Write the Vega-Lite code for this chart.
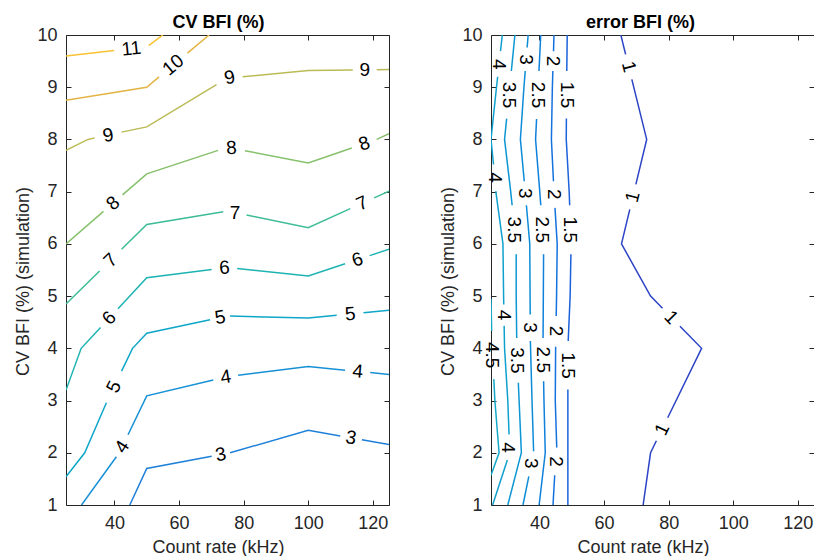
{
  "$schema": "https://vega.github.io/schema/vega-lite/v6.json",
  "autosize": {"type": "pad"},
  "padding": {"left": 14, "top": 14, "right": 0, "bottom": 0},
  "background": "white",
  "config": {
    "view": {"stroke": null},
    "font": "Liberation Sans",
    "axis": {
      "grid": false, "domainColor": "#262626", "tickColor": "#262626", "labelColor": "#262626",
      "titleColor": "#262626", "labelFont": "Liberation Sans", "titleFont": "Liberation Sans",
      "labelFontSize": 18, "titleFontSize": 18, "titleFontWeight": "normal",
      "tickSize": -5, "labelPadding": 14, "domainWidth": 1, "tickWidth": 1
    }
  },
  "resolve": {"scale": {"color": "independent"}},
  "datasets": {
    "L": [
      {"lv":"3","s":"3a","x":44.75,"y":1.0},{"lv":"3","s":"3a","x":50,"y":1.70},{"lv":"3","s":"3a","x":70.1,"y":1.934},
      {"lv":"3","s":"3b","x":75.8,"y":2.0},{"lv":"3","s":"3b","x":100,"y":2.43},{"lv":"3","s":"3b","x":109.9,"y":2.323},
      {"lv":"3","s":"3c","x":116.6,"y":2.251},{"lv":"3","s":"3c","x":125,"y":2.16},
      {"lv":"4","s":"4a","x":29.8,"y":1.0},{"lv":"4","s":"4a","x":40.6,"y":1.923},
      {"lv":"4","s":"4b","x":44.2,"y":2.346},{"lv":"4","s":"4b","x":50,"y":3.09},{"lv":"4","s":"4b","x":70.6,"y":3.395},
      {"lv":"4","s":"4c","x":78.3,"y":3.485},{"lv":"4","s":"4c","x":100,"y":3.65},{"lv":"4","s":"4c","x":111.4,"y":3.582},
      {"lv":"4","s":"4d","x":119.2,"y":3.535},{"lv":"4","s":"4d","x":125,"y":3.50},
      {"lv":"5","s":"5a","x":25,"y":1.54},{"lv":"5","s":"5a","x":30.8,"y":2.0},{"lv":"5","s":"5a","x":37.5,"y":2.957},
      {"lv":"5","s":"5b","x":42.2,"y":3.564},{"lv":"5","s":"5b","x":45.6,"y":4.0},{"lv":"5","s":"5b","x":50,"y":4.29},{"lv":"5","s":"5b","x":69.6,"y":4.549},
      {"lv":"5","s":"5c","x":75.8,"y":4.619},{"lv":"5","s":"5c","x":100,"y":4.58},{"lv":"5","s":"5c","x":108.8,"y":4.633},
      {"lv":"5","s":"5d","x":117.1,"y":4.683},{"lv":"5","s":"5d","x":125,"y":4.73},
      {"lv":"6","s":"6a","x":25,"y":3.2},{"lv":"6","s":"6a","x":29.7,"y":4.0},{"lv":"6","s":"6a","x":35.7,"y":4.40},
      {"lv":"6","s":"6b","x":41.1,"y":4.76},{"lv":"6","s":"6b","x":50,"y":5.35},{"lv":"6","s":"6b","x":70.1,"y":5.51},
      {"lv":"6","s":"6c","x":78.0,"y":5.53},{"lv":"6","s":"6c","x":100,"y":5.385},{"lv":"6","s":"6c","x":111.4,"y":5.62},
      {"lv":"6","s":"6d","x":119,"y":5.776},{"lv":"6","s":"6d","x":125,"y":5.9},
      {"lv":"7","s":"7a","x":25,"y":4.85},{"lv":"7","s":"7a","x":35.4,"y":5.48},
      {"lv":"7","s":"7b","x":42.2,"y":5.896},{"lv":"7","s":"7b","x":50,"y":6.37},{"lv":"7","s":"7b","x":73.7,"y":6.616},
      {"lv":"7","s":"7c","x":80.9,"y":6.554},{"lv":"7","s":"7c","x":100,"y":6.31},{"lv":"7","s":"7c","x":113,"y":6.674},
      {"lv":"7","s":"7d","x":120.4,"y":6.881},{"lv":"7","s":"7d","x":125,"y":7.01},
      {"lv":"8","s":"8a","x":25,"y":6.0},{"lv":"8","s":"8a","x":36.6,"y":6.622},
      {"lv":"8","s":"8b","x":42.5,"y":6.938},{"lv":"8","s":"8b","x":50,"y":7.34},{"lv":"8","s":"8b","x":72.1,"y":7.79},
      {"lv":"8","s":"8c","x":80.4,"y":7.785},{"lv":"8","s":"8c","x":100,"y":7.55},{"lv":"8","s":"8c","x":113.5,"y":7.837},
      {"lv":"8","s":"8d","x":121.2,"y":8.0},{"lv":"8","s":"8d","x":125,"y":8.11},
      {"lv":"9","s":"9a","x":25,"y":7.79},{"lv":"9","s":"9a","x":31.8,"y":8.0},{"lv":"9","s":"9a","x":33.9,"y":8.03},
      {"lv":"9","s":"9b","x":42.2,"y":8.14},{"lv":"9","s":"9b","x":50,"y":8.24},{"lv":"9","s":"9b","x":71.6,"y":9.05},
      {"lv":"9","s":"9c","x":79.7,"y":9.20},{"lv":"9","s":"9c","x":100,"y":9.32},{"lv":"9","s":"9c","x":113.8,"y":9.33},
      {"lv":"9","s":"9d","x":121.2,"y":9.335},{"lv":"9","s":"9d","x":125,"y":9.34},
      {"lv":"10","s":"10a","x":25,"y":8.75},{"lv":"10","s":"10a","x":50,"y":9.0},{"lv":"10","s":"10a","x":53.8,"y":9.197},
      {"lv":"10","s":"10b","x":62.6,"y":9.653},{"lv":"10","s":"10b","x":69.3,"y":10},
      {"lv":"11","s":"11a","x":25,"y":9.6},{"lv":"11","s":"11a","x":39.9,"y":9.701},
      {"lv":"11","s":"11b","x":50.6,"y":9.798},{"lv":"11","s":"11b","x":55,"y":10}
    ],
    "Llab": [
      {"t":"3","x":72.9,"y":1.967,"a":-11},{"t":"3","x":113.25,"y":2.287,"a":10},
      {"t":"4","x":42.4,"y":2.115,"a":-57},{"t":"4","x":74.45,"y":3.452,"a":-9},{"t":"4","x":115.3,"y":3.558,"a":5},
      {"t":"5","x":39.85,"y":3.263,"a":-64},{"t":"5","x":72.7,"y":4.59,"a":-10},{"t":"5","x":113,"y":4.658,"a":-5},
      {"t":"6","x":38.4,"y":4.579,"a":-47},{"t":"6","x":74.05,"y":5.542,"a":-3},{"t":"6","x":115.2,"y":5.698,"a":-18},
      {"t":"7","x":38.8,"y":5.688,"a":-44},{"t":"7","x":77.3,"y":6.6,"a":0},{"t":"7","x":116.7,"y":6.778,"a":-24},
      {"t":"8","x":39.55,"y":6.78,"a":-41},{"t":"8","x":76.25,"y":7.835,"a":-3},{"t":"8","x":117.35,"y":7.918,"a":-19},
      {"t":"9","x":38.05,"y":8.08,"a":-12},{"t":"9","x":75.65,"y":9.186,"a":-12},{"t":"9","x":117.5,"y":9.335,"a":0},
      {"t":"10","x":58.2,"y":9.425,"a":-40},{"t":"11","x":45.25,"y":9.738,"a":-6}
    ],
    "R": [
      {"lv":"1","s":"1a","x":65.2,"y":10},{"lv":"1","s":"1a","x":66.68,"y":9.63},
      {"lv":"1","s":"1b","x":68.6,"y":9.15},{"lv":"1","s":"1b","x":73.2,"y":8},{"lv":"1","s":"1b","x":69.85,"y":7.14},
      {"lv":"1","s":"1c","x":67.97,"y":6.66},{"lv":"1","s":"1c","x":65.4,"y":6},{"lv":"1","s":"1c","x":74.4,"y":5},{"lv":"1","s":"1c","x":78.1,"y":4.766},
      {"lv":"1","s":"1d","x":83.5,"y":4.424},{"lv":"1","s":"1d","x":90.2,"y":4},{"lv":"1","s":"1d","x":79.7,"y":2.67},
      {"lv":"1","s":"1e","x":76.2,"y":2.23},{"lv":"1","s":"1e","x":74.4,"y":2},{"lv":"1","s":"1e","x":72.1,"y":1},
      {"lv":"1.5","s":"15a","x":48.6,"y":10},{"lv":"1.5","s":"15a","x":48.46,"y":9.31},
      {"lv":"1.5","s":"15b","x":48.34,"y":8.4},{"lv":"1.5","s":"15b","x":48.3,"y":8},{"lv":"1.5","s":"15b","x":49.2,"y":7},{"lv":"1.5","s":"15b","x":49.36,"y":6.74},
      {"lv":"1.5","s":"15c","x":49.74,"y":5.8},{"lv":"1.5","s":"15c","x":49.5,"y":5},{"lv":"1.5","s":"15c","x":48.9,"y":4.14},
      {"lv":"1.5","s":"15d","x":48.8,"y":3.21},{"lv":"1.5","s":"15d","x":48.8,"y":3},{"lv":"1.5","s":"15d","x":48.8,"y":2},{"lv":"1.5","s":"15d","x":48.8,"y":1},
      {"lv":"2","s":"2a","x":44.5,"y":10},{"lv":"2","s":"2a","x":44.35,"y":9.69},
      {"lv":"2","s":"2b","x":44.15,"y":9.31},{"lv":"2","s":"2b","x":44.0,"y":9},{"lv":"2","s":"2b","x":43.7,"y":8},{"lv":"2","s":"2b","x":44.34,"y":7.2},
      {"lv":"2","s":"2c","x":44.81,"y":6.69},{"lv":"2","s":"2c","x":45.5,"y":6},{"lv":"2","s":"2c","x":45.3,"y":5},{"lv":"2","s":"2c","x":45.19,"y":4.62},
      {"lv":"2","s":"2d","x":45.01,"y":4.03},{"lv":"2","s":"2d","x":44.9,"y":3},{"lv":"2","s":"2d","x":45.35,"y":2.1},
      {"lv":"2","s":"2e","x":44.72,"y":1.57},{"lv":"2","s":"2e","x":44.2,"y":1},
      {"lv":"2.5","s":"25a","x":40.4,"y":10},{"lv":"2.5","s":"25a","x":39.85,"y":9.31},
      {"lv":"2.5","s":"25b","x":39.11,"y":8.39},{"lv":"2.5","s":"25b","x":38.8,"y":8},{"lv":"2.5","s":"25b","x":40.1,"y":7},{"lv":"2.5","s":"25b","x":40.41,"y":6.74},
      {"lv":"2.5","s":"25c","x":41.28,"y":5.8},{"lv":"2.5","s":"25c","x":41.2,"y":5},{"lv":"2.5","s":"25c","x":41.12,"y":4.2},
      {"lv":"2.5","s":"25d","x":41.29,"y":3.37},{"lv":"2.5","s":"25d","x":41.4,"y":3},{"lv":"2.5","s":"25d","x":41.8,"y":2},{"lv":"2.5","s":"25d","x":39.9,"y":1},
      {"lv":"3","s":"3a","x":36.5,"y":10},{"lv":"3","s":"3a","x":36.19,"y":9.76},
      {"lv":"3","s":"3b","x":35.6,"y":9.31},{"lv":"3","s":"3b","x":35.2,"y":9},{"lv":"3","s":"3b","x":34.1,"y":8},{"lv":"3","s":"3b","x":35.3,"y":7.2},
      {"lv":"3","s":"3c","x":35.96,"y":6.74},{"lv":"3","s":"3c","x":37.0,"y":6},{"lv":"3","s":"3c","x":37.1,"y":5},{"lv":"3","s":"3c","x":37.14,"y":4.65},
      {"lv":"3","s":"3d","x":37.19,"y":4.14},{"lv":"3","s":"3d","x":37.7,"y":3},{"lv":"3","s":"3d","x":38.19,"y":2.03},
      {"lv":"3","s":"3e","x":36.71,"y":1.55},{"lv":"3","s":"3e","x":34.9,"y":1},
      {"lv":"3.5","s":"35a","x":32.4,"y":10},{"lv":"3.5","s":"35a","x":31.3,"y":9.31},
      {"lv":"3.5","s":"35b","x":29.84,"y":8.4},{"lv":"3.5","s":"35b","x":29.2,"y":8},{"lv":"3.5","s":"35b","x":31.1,"y":7},{"lv":"3.5","s":"35b","x":31.54,"y":6.74},
      {"lv":"3.5","s":"35c","x":32.8,"y":5.8},{"lv":"3.5","s":"35c","x":32.8,"y":5},{"lv":"3.5","s":"35c","x":32.96,"y":4.2},
      {"lv":"3.5","s":"35d","x":33.46,"y":3.34},{"lv":"3.5","s":"35d","x":33.7,"y":3},{"lv":"3.5","s":"35d","x":34.4,"y":2},{"lv":"3.5","s":"35d","x":30.2,"y":1},
      {"lv":"4","s":"4a","x":28.5,"y":10},{"lv":"4","s":"4a","x":27.94,"y":9.69},
      {"lv":"4","s":"4b","x":27.06,"y":9.2},{"lv":"4","s":"4b","x":26.7,"y":9},{"lv":"4","s":"4b","x":25.0,"y":8},{"lv":"4","s":"4b","x":25.78,"y":7.52},
      {"lv":"4","s":"4c","x":26.48,"y":7.01},{"lv":"4","s":"4c","x":28.7,"y":6},{"lv":"4","s":"4c","x":28.9,"y":5},{"lv":"4","s":"4c","x":28.95,"y":4.84},
      {"lv":"4","s":"4d","x":29.07,"y":4.43},{"lv":"4","s":"4d","x":29.2,"y":4},{"lv":"4","s":"4d","x":30.2,"y":3},{"lv":"4","s":"4d","x":30.59,"y":2.35},
      {"lv":"4","s":"4e","x":30.06,"y":1.86},{"lv":"4","s":"4e","x":25.5,"y":1},
      {"lv":"4.5","s":"45a","x":25.0,"y":4.95},{"lv":"4.5","s":"45a","x":25.2,"y":4.33},
      {"lv":"4.5","s":"45b","x":25.87,"y":3.41},{"lv":"4.5","s":"45b","x":26.2,"y":3.0},{"lv":"4.5","s":"45b","x":27.5,"y":2.0},{"lv":"4.5","s":"45b","x":25.0,"y":1.57}
    ],
    "Rlab": [
      {"t":"1","x":67.64,"y":9.39,"a":76},{"t":"1","x":68.9,"y":6.9,"a":-76},{"t":"1","x":80.8,"y":4.595,"a":46},{"t":"1","x":78.0,"y":2.45,"a":-64},
      {"t":"1.5","x":48.4,"y":8.85,"a":90},{"t":"1.5","x":49.55,"y":6.27,"a":90},{"t":"1.5","x":48.85,"y":3.67,"a":90},
      {"t":"2","x":44.25,"y":9.5,"a":90},{"t":"2","x":44.57,"y":6.95,"a":90},{"t":"2","x":45.1,"y":4.33,"a":90},{"t":"2","x":45.05,"y":1.83,"a":90},
      {"t":"2.5","x":39.5,"y":8.85,"a":90},{"t":"2.5","x":40.85,"y":6.27,"a":90},{"t":"2.5","x":41.2,"y":3.78,"a":90},
      {"t":"3","x":35.9,"y":9.53,"a":90},{"t":"3","x":35.65,"y":6.97,"a":90},{"t":"3","x":37.16,"y":4.4,"a":90},{"t":"3","x":37.5,"y":1.8,"a":90},
      {"t":"3.5","x":30.6,"y":8.85,"a":90},{"t":"3.5","x":32.2,"y":6.27,"a":90},{"t":"3.5","x":33.2,"y":3.77,"a":90},
      {"t":"4","x":27.5,"y":9.44,"a":90},{"t":"4","x":26.1,"y":7.27,"a":90},{"t":"4","x":29.0,"y":4.64,"a":90},{"t":"4","x":30.4,"y":2.1,"a":90},
      {"t":"4.5","x":25.3,"y":3.87,"a":90}
    ]
  },
  "spacing": 102,
  "bounds": "flush",
  "hconcat": [
    {
      "width": 323, "height": 470,
      "title": {"text": "CV BFI (%)", "fontSize": 18, "fontWeight": "bold", "color": "#000", "font": "Liberation Sans", "frame": "group", "anchor": "middle", "baseline": "alphabetic", "offset": -20, "dx": -9},
      "layer": [
        {
          "data": {"name": "L"},
          "mark": {"type": "line", "strokeWidth": 1.5, "clip": true},
          "encoding": {
            "x": {"field": "x", "type": "quantitative", "scale": {"domain": [25, 125], "nice": false, "zero": false},
                  "axis": {"orient": "bottom", "values": [40, 60, 80, 100, 120], "title": "Count rate (kHz)", "titleX": 152, "titleY": 47, "titleBaseline": "alphabetic"}},
            "y": {"field": "y", "type": "quantitative", "scale": {"domain": [1, 10], "nice": false, "zero": false},
                  "axis": {"orient": "left", "values": [1,2,3,4,5,6,7,8,9,10], "title": "CV BFI (%) (simulation)", "titleX": -38, "titleY": 246, "titleBaseline": "alphabetic", "titleAngle": 270}},
            "color": {"field": "lv", "type": "nominal", "legend": null,
                      "scale": {"domain": ["3","4","5","6","7","8","9","10","11"], "range": ["#1e80d9","#1690d6","#0ea6c9","#1eb3b3","#3dbc97","#86c06b","#bbbb56","#e3b444","#f9c232"]}},
            "detail": {"field": "s"},
            "order": {"value": null}
          }
        },
        {
          "data": {"name": "Llab"},
          "mark": {"type": "text", "fontSize": 19, "font": "Liberation Sans", "color": "#000", "align": "center", "baseline": "middle"},
          "encoding": {
            "x": {"field": "x", "type": "quantitative", "axis": {"orient": "top", "values": [40, 60, 80, 100, 120], "labels": false, "title": null}},
            "y": {"field": "y", "type": "quantitative", "axis": {"orient": "right", "values": [1,2,3,4,5,6,7,8,9,10], "labels": false, "title": null}},
            "text": {"field": "t"},
            "angle": {"field": "a", "type": "quantitative", "scale": null}
          }
        }
      ],
      "resolve": {"axis": {"x": "independent", "y": "independent"}}
    },
    {
      "width": 323, "height": 470,
      "title": {"text": "error BFI (%)", "fontSize": 18, "fontWeight": "bold", "color": "#000", "font": "Liberation Sans", "frame": "group", "anchor": "middle", "baseline": "alphabetic", "offset": -20, "dx": -12},
      "layer": [
        {
          "data": {"name": "R"},
          "mark": {"type": "line", "strokeWidth": 1.5, "clip": true},
          "encoding": {
            "x": {"field": "x", "type": "quantitative", "scale": {"domain": [25, 125], "nice": false, "zero": false},
                  "axis": {"orient": "bottom", "values": [40, 60, 80, 100, 120], "title": "Count rate (kHz)", "titleX": 152, "titleY": 47, "titleBaseline": "alphabetic"}},
            "y": {"field": "y", "type": "quantitative", "scale": {"domain": [1, 10], "nice": false, "zero": false},
                  "axis": {"orient": "left", "values": [1,2,3,4,5,6,7,8,9,10], "title": "CV BFI (%) (simulation)", "titleX": -38, "titleY": 246, "titleBaseline": "alphabetic", "titleAngle": 270}},
            "color": {"field": "lv", "type": "nominal", "legend": null,
                      "scale": {"domain": ["1","1.5","2","2.5","3","3.5","4","4.5"], "range": ["#2d43c6","#1c62db","#1472de","#0f80dc","#0c8cd8","#0c96d3","#10a0ce","#16a8c8"]}},
            "detail": {"field": "s"},
            "order": {"value": null}
          }
        },
        {
          "data": {"name": "Rlab"},
          "mark": {"type": "text", "fontSize": 19, "font": "Liberation Sans", "color": "#000", "align": "center", "baseline": "middle"},
          "encoding": {
            "x": {"field": "x", "type": "quantitative", "axis": {"orient": "top", "values": [40, 60, 80, 100, 120], "labels": false, "title": null}},
            "y": {"field": "y", "type": "quantitative", "axis": {"orient": "right", "values": [1,2,3,4,5,6,7,8,9,10], "labels": false, "title": null}},
            "text": {"field": "t"},
            "angle": {"field": "a", "type": "quantitative", "scale": null}
          }
        }
      ],
      "resolve": {"axis": {"x": "independent", "y": "independent"}}
    }
  ]
}
